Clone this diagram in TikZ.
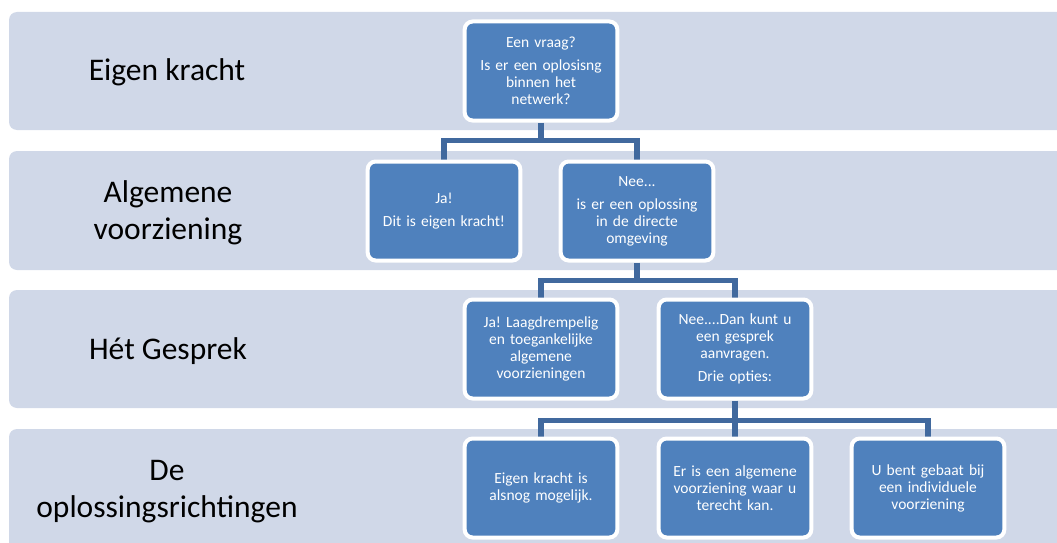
\documentclass[tikz,border=0pt]{standalone}
\usepackage{fontspec}
\setmainfont{Carlito}
\usepackage{tikz}
\usetikzlibrary{backgrounds}
\frenchspacing

\definecolor{bandgrey}{HTML}{D0D8E8}
\definecolor{boxblue}{HTML}{4F81BD}
\definecolor{linkblue}{HTML}{41699E}

\tikzset{
  band/.style={fill=bandgrey, rounded corners=8pt},
  level/.style={align=center, font=\fontsize{31.5}{37}\selectfont},
  stepbox/.style={rectangle, rounded corners=8pt, fill=boxblue, draw=white,
    line width=4pt, minimum width=150pt, minimum height=99pt,
    text width=146pt, align=center, text=white,
    font=\fontsize{15.5}{17}\selectfont},
  link/.style={draw=linkblue, line width=5.5pt}
}

\begin{document}
\begin{tikzpicture}[x=1pt,y=-1pt]
    \useasboundingbox (0,0) rectangle (1057,543);
    \clip (0,0) rectangle (1057,543);

    % levels
    \node[level] (lvla) at (167,72) {Eigen kracht};
    \node[level] (lvlb) at (168,213) {Algemene\\voorziening};
    \node[level] (lvlc) at (168,351) {Hét Gesprek};
    \node[level] (lvld) at (167,492) {De\\oplossingsrichtingen};

    % steps
    \node[stepbox] (vraag) at (541,71) {Een vraag?\\[6pt]Is er een oplosisng\\binnen het\\netwerk?};
    \node[stepbox] (ja) at (444,211) {Ja!\\[6pt]Dit is eigen kracht!};
    \node[stepbox] (nee) at (637,211) {Nee...\\[6pt]is er een oplossing\\in de directe\\omgeving};
    \node[stepbox] (algvz) at (541,349) {Ja! Laagdrempelig\\en toegankelijke\\algemene\\voorzieningen};
    \node[stepbox] (gesprek) at (735,349) {Nee....Dan kunt u\\een gesprek\\aanvragen.\\[6pt]Drie opties:};
    \node[stepbox] (optie1) at (541,488) {Eigen kracht is\\alsnog mogelijk.};
    \node[stepbox] (optie2) at (735,488) {Er is een algemene\\voorziening waar u\\terecht kan.};
    \node[stepbox] (optie3) at (928,488) {U bent gebaat bij\\een individuele\\voorziening};

    \begin{scope}[on background layer]
      \fill[band] (9,12) rectangle (1075,130);
      \fill[band] (9,151) rectangle (1075,270);
      \fill[band] (9,290) rectangle (1075,408);
      \fill[band] (9,429) rectangle (1075,570);

      \draw[link] (vraag.south) -- ++(0,18) -| (ja.north);
      \draw[link] (vraag.south) -- ++(0,18) -| (nee.north);
      \draw[link] (nee.south) -- ++(0,18) -| (algvz.north);
      \draw[link] (nee.south) -- ++(0,18) -| (gesprek.north);
      \draw[link] (gesprek.south) -- ++(0,20) -| (optie1.north);
      \draw[link] (gesprek.south) -- ++(0,20) -| (optie2.north);
      \draw[link] (gesprek.south) -- ++(0,20) -| (optie3.north);
    \end{scope}
  \end{tikzpicture}
\end{document}
